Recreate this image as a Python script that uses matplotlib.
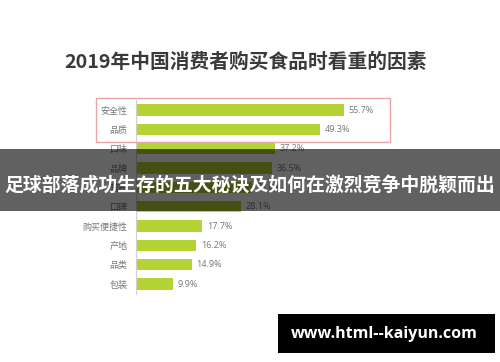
import matplotlib.pyplot as plt
from matplotlib.patches import Rectangle

# data (the 5th bar is hidden under the banner, value estimated)
categories = ['安全性', '品质', '口味', '品牌', '营养', '口碑', '购买便捷性', '产地', '品类', '包装']
values = [55.7, 49.3, 37.2, 36.5, 31.0, 28.1, 17.7, 16.2, 14.9, 9.9]

title = '2019年中国消费者购买食品时看重的因素'
banner = '足球部落成功生存的五大秘诀及如何在激烈竞争中脱颖而出'
watermark = 'www.html--kaiyun.com'

plt.rcParams['font.family'] = ['Noto Sans CJK SC', 'DejaVu Sans']

W, H = 500, 362
fig = plt.figure(figsize=(W / 100, H / 100), dpi=100)
fig.patch.set_facecolor('white')


def fx(px):
    return px / W


def fy(py):
    return 1 - py / H


# bar axes: x 0..60 over 224 px starting at x=136, rows 19.33 px apart
ax = fig.add_axes([fx(136), fy(293.7), 224 / W, 193.3 / H])
y_pos = list(range(len(categories)))
ax.barh(y_pos, values, height=0.58, color='#b4d334')
ax.set_xlim(0, 60)
ax.set_ylim(len(categories) - 0.5, -0.5)
ax.set_yticks(y_pos)
ax.set_yticklabels(categories, fontsize=6.5, color='#777777')
ax.tick_params(axis='y', length=0, pad=6)
ax.set_xticks([])
for side in ['top', 'right', 'bottom']:
    ax.spines[side].set_visible(False)
ax.spines['left'].set_color('#d0d0d0')
ax.spines['left'].set_linewidth(0.8)

for y, v in zip(y_pos, values):
    ax.text(v + 1.3, y, f'{v}%', va='center', ha='left', fontsize=6.5,
            color='#777777', family=['Open Sans', 'DejaVu Sans'])

# title
fig.text(fx(246), fy(62), title, ha='center', va='center', fontsize=14.2,
         fontweight='bold', color='#3a3a3a')

# highlight box round the first two rows
fig.add_artist(Rectangle((fx(96), fy(141.7)), fx(294), 43.7 / H, transform=fig.transFigure,
                         fill=False, edgecolor='#e8a4a8', linewidth=1.0))

# dark banner over the chart
fig.add_artist(Rectangle((0, fy(211)), 1, 62 / H, transform=fig.transFigure,
                         facecolor='black', alpha=0.62, edgecolor='none', zorder=5))
fig.text(0.5, fy(185), banner, ha='center', va='center', fontsize=13.6,
         fontweight='bold', color='white', zorder=6)

# watermark box
fig.add_artist(Rectangle((fx(278), fy(353)), fx(217), 39 / H, transform=fig.transFigure,
                         facecolor='black', edgecolor='none', zorder=5))
fig.text(fx(384), fy(333.5), watermark, ha='center', va='center', fontsize=11.5,
         fontweight='bold', color='white', family=['Open Sans', 'DejaVu Sans'], zorder=6)

fig.savefig('out.png', dpi=100)
